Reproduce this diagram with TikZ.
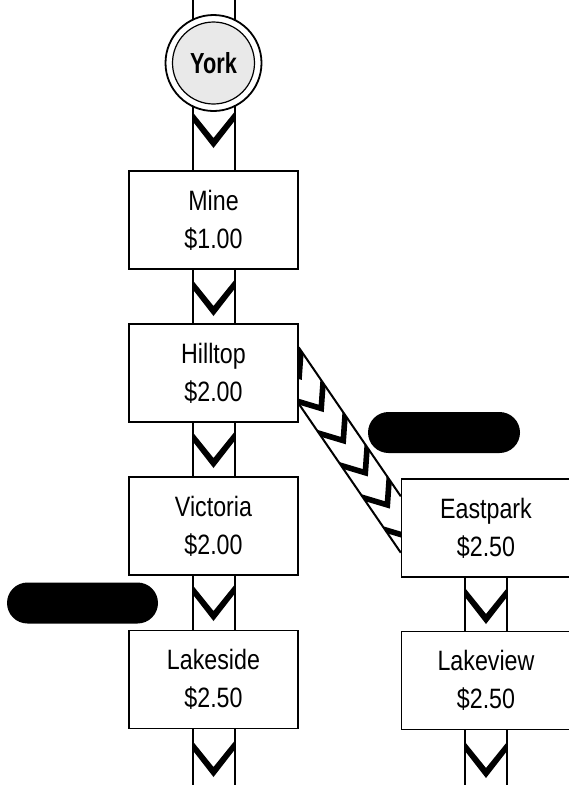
\documentclass[tikz,border=0pt]{standalone}
\usepackage{fontspec}
\setmainfont{Liberation Sans}[FakeStretch=0.83]
\newfontfamily\yorkfont{Liberation Sans}[FakeStretch=0.75]
\usetikzlibrary{calc}
\pgfdeclarelayer{bg}
\pgfsetlayers{bg,main}
\newcommand\mchev[2]{\fill[shift={(#1,#2)}] (-21,0) -- (0,26) -- (21,0) -- (21,9) -- (0,36) -- (-21,9) -- cycle;}
\begin{document}
\begin{tikzpicture}[x=1pt,y=-1pt,
  station/.style={draw, line width=1.4pt, fill=white, minimum width=169pt, minimum height=98pt,
    align=center, inner sep=0pt, font=\fontsize{28}{38}\selectfont},
  rail/.style={line width=2pt},
  pill/.style={fill=black, rounded corners=20.5pt, minimum height=41pt, inner sep=0pt}]
\useasboundingbox (0,0) rectangle (569,785);

% stations
\node[station] (mine)  at (213.5,220)   {Mine\\\$1.00};
\node[station] (hill)  at (213.5,373)   {Hilltop\\\$2.00};
\node[station] (vic)   at (213.5,526)   {Victoria\\\$2.00};
\node[station] (lakes) at (213.5,679.5) {Lakeside\\\$2.50};
\node[station] (east)  at (486,528)     {Eastpark\\\$2.50};
\node[station] (lakev) at (486,680.5)   {Lakeview\\\$2.50};

% York terminus
\node[circle, draw, line width=1.8pt, fill=white, minimum size=96pt, inner sep=0pt] (yorkring) at (213.5,63) {};
\node[circle, draw, line width=1.2pt, fill=gray!17, minimum size=82pt, inner sep=0pt,
      font=\yorkfont\bfseries\fontsize{29}{32}\selectfont] (york) at (yorkring) {York};

% black labels
\node[pill, minimum width=151pt] (p1) at (82.5,603) {};
\node[pill, minimum width=152pt] (p2) at (444,432.5) {};

% free ends
\coordinate (topc) at (213.5,0);
\coordinate (botL) at (213.5,785);
\coordinate (botR) at (486,785);

% diagonal track ends
\coordinate (h1) at ($(hill.north east)+(0,24)$);
\coordinate (h2) at ($(hill.south east)+(0,-19)$);
\coordinate (e1) at ($(east.north west)+(0,18)$);
\coordinate (e2) at ($(east.south west)+(0,-25)$);
\coordinate (dc1) at ($(h1)!0.5!(h2)$);
\coordinate (dc2) at ($(e1)!0.5!(e2)$);

\begin{pgfonlayer}{bg}
  \foreach \a/\b in {topc/yorkring, yorkring/mine, mine/hill, hill/vic, vic/lakes, lakes/botL, east/lakev, lakev/botR} {
    \draw[rail] ([xshift=-21pt]\a.center) -- ([xshift=-21pt]\b.center);
    \draw[rail] ([xshift=21pt]\a.center) -- ([xshift=21pt]\b.center);
  }
  \mchev{213.5}{112}
  \mchev{213.5}{280}
  \mchev{213.5}{432}
  \mchev{213.5}{585}
  \mchev{213.5}{741}
  \mchev{486}{588}
  \mchev{486}{742}
  % diagonal branch
  \draw[rail] (h1) -- (e1);
  \draw[rail] (h2) -- (e2);
  \begin{scope}
    \clip (h1) -- (e1) -- (e2) -- (h2) -- cycle;
    \foreach \f in {0.0298,0.2457,0.4616,0.6775,0.8934,1.1093}
      \fill[shift={($(dc1)!\f!(dc2)$)}, rotate=-55.35]
        (-29,-16) -- (-9,0) -- (-29,16) -- (-20,16) -- (0,0) -- (-20,-16) -- cycle;
  \end{scope}
\end{pgfonlayer}
\end{tikzpicture}
\end{document}
